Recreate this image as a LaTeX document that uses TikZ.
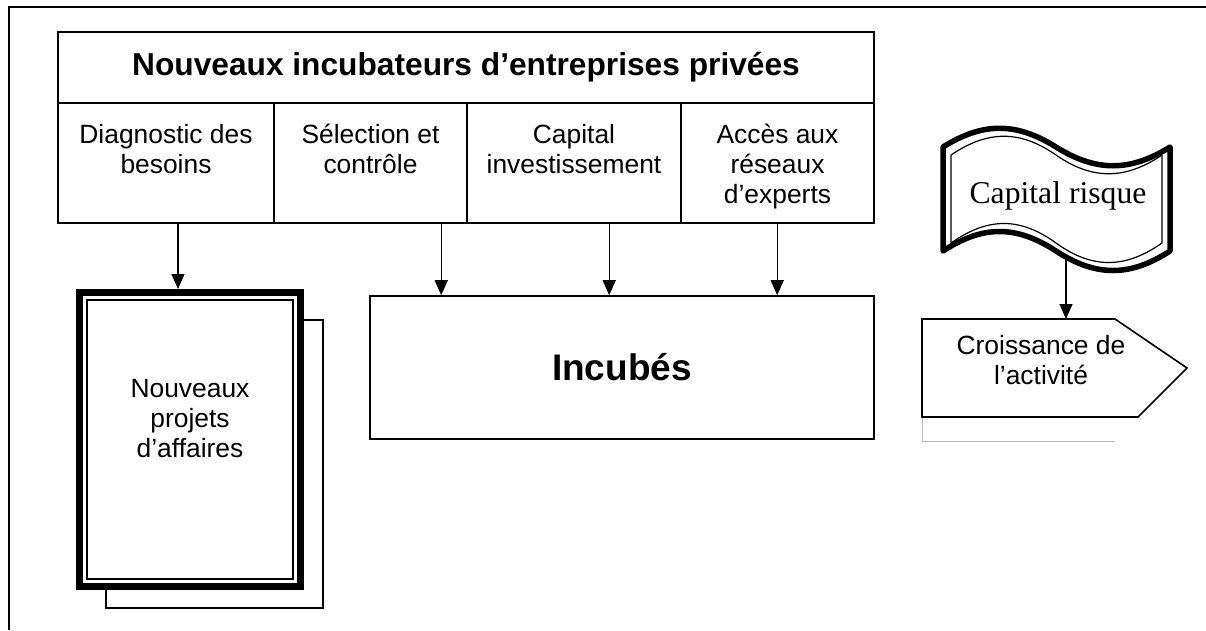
\documentclass[tikz,border=0pt]{standalone}
\usepackage{fontspec}
\setmainfont{Liberation Serif}
\setsansfont{Liberation Sans}
\usetikzlibrary{arrows.meta, positioning}

\begin{document}
\begin{tikzpicture}[
  x=1pt, y=-1pt,
  >={Triangle[width=13pt,length=15pt]},
  box/.style={
    draw,
    line width=1.6pt,
    inner sep=0pt,
    fill=white,
  },
  celltext/.style={
    font=\fontsize{26.4}{30}\sffamily,
    align=center,
    inner sep=0pt,
  },
  arr/.style={
    ->,
    line width=1.3pt,
  },
]
\useasboundingbox (0,0) rectangle (1206,630);

% ============================================================
% FRAME
% ============================================================
\draw[line width=2pt] (9,630) -- (9,7) -- (1206,7);

% ============================================================
% INCUBATEURS (top)
% ============================================================
\node[box, minimum width=816pt, minimum height=71pt] (titlebar) at (466,67.5) {};
\node[font=\fontsize{31.7}{36}\sffamily\bfseries] (titletext) at (titlebar)
  {Nouveaux incubateurs d’entreprises privées};

\node[box, minimum width=216pt, minimum height=120pt] (diag)    at (166,163)   {};
\node[box, minimum width=193pt, minimum height=120pt] (select)  at (370.5,163) {};
\node[box, minimum width=214pt, minimum height=120pt] (capinv)  at (574,163)   {};
\node[box, minimum width=193pt, minimum height=120pt] (experts) at (777.5,163) {};

\node[celltext, anchor=north] (diagtext)    at (166,124)   {Diagnostic des\\besoins};
\node[celltext, anchor=north] (selecttext)  at (370.5,124) {Sélection et\\contrôle};
\node[celltext, anchor=north] (capinvtext)  at (574,124)   {Capital\\investissement};
\node[celltext, anchor=north] (expertstext) at (777.5,124) {Accès aux\\réseaux\\d’experts};

% ============================================================
% NOUVEAUX PROJETS (document stack)
% ============================================================
\node[box, line width=1.3pt, minimum width=217pt, minimum height=288pt] (shadow) at (214.5,464) {};
\node[box, line width=7pt, minimum width=221pt, minimum height=294pt] (docbox) at (190,439.5) {};
\node[draw, line width=1.2pt, inner sep=0pt, minimum width=206pt, minimum height=279pt]
  (docinner) at (docbox) {};
\node[celltext] (doctext) at (190,419) {Nouveaux\\projets\\d’affaires};

% ============================================================
% INCUBES
% ============================================================
\node[box, minimum width=504pt, minimum height=143pt] (incubes) at (622,367.5) {};
\node[font=\fontsize{37}{42}\sffamily\bfseries] (incubestext) at (incubes) {Incubés};

% ============================================================
% CAPITAL RISQUE (punched tape)
% ============================================================
\draw[line width=5.5pt, line join=round, fill=white]
  (943,147) .. controls (983,122) and (1016,122) .. (1056,147)
            .. controls (1096,172) and (1130,172) .. (1170,147)
  -- (1170,251) .. controls (1130,277) and (1096,277) .. (1056,251)
                .. controls (1016,225) and (983,225) .. (943,251) -- cycle;
\draw[line width=1.2pt, line join=round]
  (951,155) .. controls (988,130) and (1020,130) .. (1056,155)
            .. controls (1092,180) and (1125,180) .. (1162,155)
  -- (1162,243) .. controls (1125,269) and (1092,269) .. (1056,243)
                .. controls (1020,217) and (988,217) .. (951,243) -- cycle;
\node[font=\fontsize{31.7}{36}\rmfamily, anchor=base] (risque) at (1058,203) {Capital risque};
\coordinate (wavebot) at (1066,258);

% ============================================================
% CROISSANCE
% ============================================================
\draw[gray!55, line width=1pt] (922,417) -- (922,441) -- (1115,441);
\draw[line width=1.6pt, fill=white]
  (922,319) -- (1115,319) -- (1187,368) -- (1138,417) -- (922,417) -- cycle;
\node[celltext] (growth) at (1041,360) {Croissance de\\l’activité};
\coordinate (growthtop) at (1066,319);

% ============================================================
% ARROWS
% ============================================================
\draw[arr] ([xshift=12pt]diag.south) -- ([xshift=12pt]diag.south |- docbox.north);
\draw[arr] ([xshift=72pt]incubes.north west |- select.south)  -- ([xshift=72pt]incubes.north west);
\draw[arr] ([xshift=240pt]incubes.north west |- capinv.south) -- ([xshift=240pt]incubes.north west);
\draw[arr] ([xshift=408pt]incubes.north west |- experts.south) -- ([xshift=408pt]incubes.north west);
\draw[arr] (wavebot) -- (growthtop);

\end{tikzpicture}
\end{document}
